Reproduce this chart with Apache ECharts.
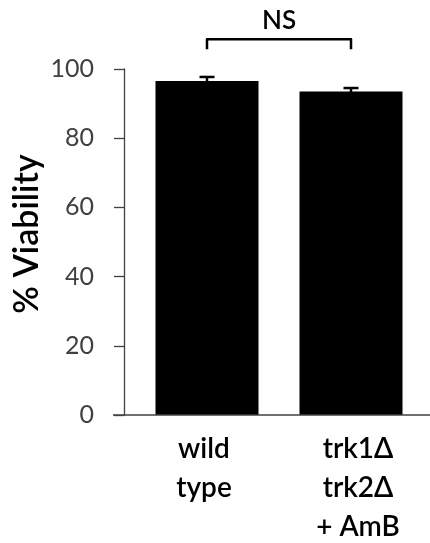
<!DOCTYPE html>
<html><head><meta charset="utf-8">
<script src="https://cdn.jsdelivr.net/npm/echarts@6/dist/echarts.min.js"></script>
<style>html,body{margin:0;padding:0;background:#fff;overflow:hidden}#c{width:430px;height:543px}</style>
</head><body><div id="c"></div>
<script>
const categories = ['wild\ntype', 'trk1Δ\ntrk2Δ\n+ AmB'];
const viability = [96.5, 93.5];
const errors = [1.2, 1.0];
const yMin = 0, yMax = 100, yStep = 20;
const bracketLevel = 108.6;
const bracketDrop = 105.7;
const bracketLabel = 'NS';
const bracketLabelLevel = 113.9;
const yTitle = '% Viability';

const FONT = 'Lato, "Open Sans", sans-serif';
const AXIS_COLOR = '#404040';
const TEXT_WEIGHT = 600;
const chart = echarts.init(document.getElementById('c'), null, {renderer: 'canvas', width: 430, height: 543});

function errorBar(params, api) {
  const x = api.value(0), v = api.value(1), e = api.value(2);
  const top = api.coord([x, v + e]);
  const bot = api.coord([x, v - e]);
  const half = 7.5;
  return {
    type: 'group',
    children: [
      {type: 'line', shape: {x1: top[0], y1: top[1], x2: bot[0], y2: bot[1]}, style: {stroke: '#000', lineWidth: 2.5}},
      {type: 'line', shape: {x1: top[0] - half, y1: top[1], x2: top[0] + half, y2: top[1]}, style: {stroke: '#000', lineWidth: 2.5}}
    ]
  };
}

function bracket(params, api) {
  const a = api.value(0), b = api.value(1), lvl = api.value(2), drop = api.value(3), tl = api.value(4);
  const p1 = api.coord([a, drop]), p2 = api.coord([a, lvl]), p3 = api.coord([b, lvl]), p4 = api.coord([b, drop]);
  const t = api.coord([(a + b) / 2, tl]);
  const tx = (p2[0] + p3[0]) / 2;
  return {
    type: 'group',
    children: [
      {type: 'polyline', shape: {points: [p1, p2, p3, p4]}, style: {stroke: '#000', lineWidth: 2.5, fill: null, lineJoin: 'round'}},
      {type: 'text', style: {text: bracketLabel, x: tx, y: t[1], align: 'center', verticalAlign: 'middle', fontFamily: FONT, fontSize: 26, fontWeight: TEXT_WEIGHT, fill: '#000'}}
    ]
  };
}

const labelStyle = {color: '#000', fontFamily: FONT, fontSize: 28, fontWeight: TEXT_WEIGHT, lineHeight: 39};

const option = {
  animation: false,
  backgroundColor: '#fff',
  grid: {left: 135, right: 7, top: 69, bottom: 128, containLabel: false, outerBoundsMode: 'none'},
  xAxis: {
    type: 'category', data: categories,
    axisLine: {show: false},
    axisTick: {show: false},
    axisLabel: Object.assign({}, labelStyle, {
      margin: 14, interval: 0,
      formatter: (val, idx) => val.split('\n').map(s => '{c' + idx + '|' + s + '}').join('\n'),
      rich: {
        c0: Object.assign({}, labelStyle, {padding: [0, 6, 0, 0]}),
        c1: Object.assign({}, labelStyle, {padding: [0, 0, 0, 14]})
      }
    })
  },
  yAxis: {
    type: 'value', min: yMin, max: yMax, interval: yStep, offset: 11,
    name: yTitle, nameLocation: 'middle', nameGap: 80, nameRotate: 90, nameMoveOverlap: false,
    nameTextStyle: {color: '#000', fontFamily: FONT, fontSize: 34, fontWeight: TEXT_WEIGHT, padding: [0, 0, 0, 16]},
    axisLine: {show: true, lineStyle: {color: AXIS_COLOR, width: 1.3}},
    axisTick: {show: true, length: 10, lineStyle: {color: AXIS_COLOR, width: 1.3}},
    axisLabel: {color: AXIS_COLOR, fontFamily: FONT, fontSize: 25, margin: 30},
    splitLine: {show: false}
  },
  series: [
    {type: 'bar', data: viability, barWidth: 103, itemStyle: {color: '#000'}, z: 2},
    {type: 'custom', renderItem: errorBar, data: viability.map((v, i) => [i, v, errors[i]]), clip: false, z: 3},
    {type: 'custom', renderItem: bracket, data: [[0, 1, bracketLevel, bracketDrop, bracketLabelLevel]], clip: false, z: 3}
  ]
};
chart.setOption(option);
// baseline axis line extended past the plot area, as in the reference
const y0 = chart.convertToPixel({yAxisIndex: 0}, yMin);
chart.setOption({graphic: [{type: 'line', shape: {x1: 113, y1: y0, x2: 430, y2: y0}, style: {stroke: AXIS_COLOR, lineWidth: 1.3}, z: 10}]});
</script>
</body></html>
